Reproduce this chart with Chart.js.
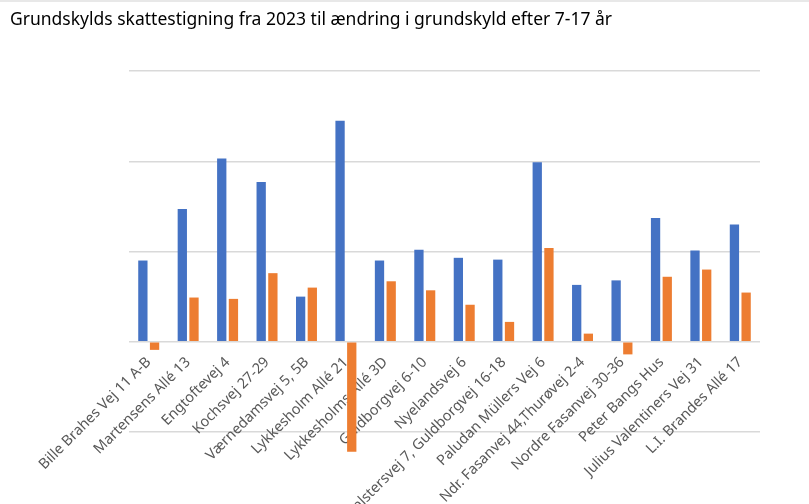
<!DOCTYPE html>
<html>
<head>
<meta charset="utf-8">
<script src="https://cdn.jsdelivr.net/npm/chart.js@4.4.0/dist/chart.umd.min.js"></script>
<style>
    html, body { margin: 0; padding: 0; background: #fff; }
    .chart-container { width: 809px; height: 504px; border-top: 2px solid #e8e8e8; box-sizing: border-box; }
</style>
</head>
<body>
<div class="chart-container">
    <canvas id="myChart"></canvas>
</div>
<script>
// data (gridline step = 1)
const labels = [
    'Bille Brahes Vej 11 A-B',
    'Martensens Allé 13',
    'Engtoftevej 4',
    'Kochsvej 27-29',
    'Værnedamsvej 5, 5B',
    'Lykkesholm Allé 21',
    'Lykkesholms Allé 3D',
    'Guldborgvej 6-10',
    'Nyelandsvej 6',
    'Falstersvej 7, Guldborgvej 16-18',
    'Paludan Müllers Vej 6',
    'Ndr. Fasanvej 44,Thurøvej 2-4',
    'Nordre Fasanvej 30-36',
    'Peter Bangs Hus',
    'Julius Valentiners Vej 31',
    'L.I. Brandes Allé 17'
];
const skattestigning = [0.90, 1.47, 2.03, 1.77, 0.50, 2.45, 0.90, 1.02, 0.93, 0.91, 1.99, 0.63, 0.68, 1.37, 1.01, 1.30];
const aendring = [-0.09, 0.49, 0.475, 0.76, 0.60, -1.22, 0.67, 0.57, 0.41, 0.22, 1.04, 0.09, -0.14, 0.72, 0.80, 0.545];
const yMin = -1;
const yMax = 3;

var ctx = document.getElementById('myChart');
new Chart(ctx, {
    type: 'bar',
    data: {
        labels: labels,
        datasets: [
            {
                label: 'Skattestigning',
                backgroundColor: '#4472C4',
                data: skattestigning,
                clip: false
            },
            {
                label: 'Ændring i grundskyld',
                backgroundColor: '#ED7D31',
                data: aendring,
                clip: false
            }
        ]
    },
    options: {
        responsive: true,
        maintainAspectRatio: false,
        animation: false,
        categoryPercentage: 0.593,
        barPercentage: 0.795,
        layout: {
            padding: { left: 10, right: 49, top: 0, bottom: 72 }
        },
        plugins: {
            legend: { display: false },
            tooltip: { enabled: false },
            title: {
                display: true,
                align: 'start',
                text: 'Grundskylds skattestigning fra 2023 til ændring i grundskyld efter 7-17 år',
                color: '#000',
                font: { family: 'Noto Sans', size: 17.5, weight: 'normal' },
                padding: { top: 8, bottom: 40 }
            }
        },
        scales: {
            x: {
                position: { y: 0 },
                z: 1,
                grid: { display: false },
                border: { display: false },
                ticks: {
                    autoSkip: false,
                    minRotation: 45,
                    maxRotation: 45,
                    padding: 4,
                    color: '#595959',
                    font: { family: 'Noto Sans', size: 14.5 }
                }
            },
            y: {
                min: yMin,
                max: yMax,
                afterFit: (scale) => { scale.width = 119; },
                ticks: { display: false, stepSize: 1 },
                border: { display: false },
                grid: { color: '#d9d9d9', lineWidth: 1.5, drawTicks: false }
            }
        }
    }
});
</script>
</body>
</html>
